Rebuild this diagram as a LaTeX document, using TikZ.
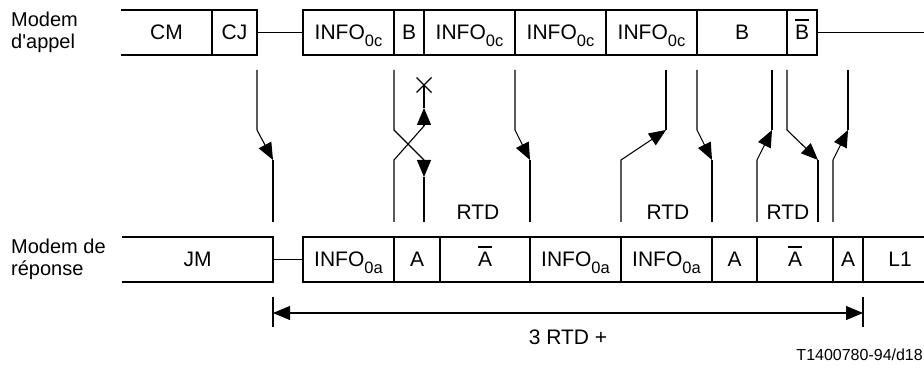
\documentclass[tikz,border=0pt]{standalone}
\usepackage{fontspec}
\setmainfont{Liberation Sans}
\usetikzlibrary{arrows.meta,positioning}

% lowered index and overbar used in the slot names
\newcommand{\lowtxt}[1]{\raisebox{-6.5pt}{\fontsize{16.5}{17}\selectfont #1}}
\newcommand{\ovbar}[1]{\setbox0\hbox{#1}\rlap{\raisebox{\dimexpr\ht0+5pt\relax}{\rule{\wd0}{1.3pt}}}\box0}

\tikzset{
  frame/.style={line width=1.4pt},
  wire/.style={line width=1.1pt},
  sig/.style={wire, -{Triangle[length=17pt,width=14pt]}},
  slot/.style={font=\fontsize{21}{23}\selectfont, inner sep=0pt, text height=15pt, text depth=0pt},
  side/.style={font=\fontsize{20}{21.5}\selectfont, inner sep=0pt, align=left, anchor=west}
}

\begin{document}
\begin{tikzpicture}[x=1pt,y=1pt]
    \useasboundingbox (0,0) rectangle (924,367);

    % calling modem row
    \node[side] (call) at (11,334.5) {Modem\\d\textquotesingle appel};
    \draw[frame] (121,357) -- (257,357) -- (257,312) -- (121,312);
    \draw[frame] (212,357) -- (212,312);
    \draw[frame] (257,334.5) -- (303,334.5);
    \draw[frame] (303,312) rectangle (817,357);
    \foreach \x in {394,424,515,606,697,787}
        \draw[frame] (\x,312) -- (\x,357);
    \draw[frame] (817,334.5) -- (924,334.5);

    \node[slot] (cm) at (166.5,334.5) {CM};
    \node[slot] (cj) at (234.5,334.5) {CJ};
    \node[slot] (ic1) at (348.5,334.5) {INFO\lowtxt{0c}};
    \node[slot] (b1) at (409,334.5) {B};
    \node[slot] (ic2) at (469.5,334.5) {INFO\lowtxt{0c}};
    \node[slot] (ic3) at (560.5,334.5) {INFO\lowtxt{0c}};
    \node[slot] (ic4) at (651.5,334.5) {INFO\lowtxt{0c}};
    \node[slot] (b2) at (742,334.5) {B};
    \node[slot] (bb) at (802,334.5) {\ovbar{B}};

    % answering modem row
    \node[side] (answer) at (11,107.5) {Modem de\\réponse};
    \draw[frame] (122,130) -- (273,130) -- (273,85) -- (122,85);
    \draw[frame] (273,107.5) -- (303,107.5);
    \draw[frame] (924,130) -- (303,130) -- (303,85) -- (924,85);
    \foreach \x in {394,440,530,621,712,757,833,863}
        \draw[frame] (\x,85) -- (\x,130);

    \node[slot] (jm) at (197.5,107.5) {JM};
    \node[slot] (ia1) at (348.5,107.5) {INFO\lowtxt{0a}};
    \node[slot] (a1) at (417,107.5) {A};
    \node[slot] (ab1) at (485,107.5) {\ovbar{A}};
    \node[slot] (ia2) at (575.5,107.5) {INFO\lowtxt{0a}};
    \node[slot] (ia3) at (666.5,107.5) {INFO\lowtxt{0a}};
    \node[slot] (a2) at (734.5,107.5) {A};
    \node[slot] (ab2) at (795,107.5) {\ovbar{A}};
    \node[slot] (a3) at (848,107.5) {A};
    \node[slot] (l1) at (900,107.5) {L1};

    % signals going down
    \draw[sig] (257,297) -- (257,237) -- (273,207);
    \draw[wire] (273,207) -- (273,145);
    \draw[wire] (394,297) -- (394,237) -- (424,207);
    \draw[sig] (424,207) -- (424,190);
    \draw[wire] (424,190) -- (424,145);
    \draw[sig] (515,297) -- (515,237) -- (530,207);
    \draw[wire] (530,207) -- (530,145);
    \draw[sig] (697,297) -- (697,237) -- (712,207);
    \draw[wire] (712,207) -- (712,145);
    \draw[sig] (787,297) -- (787,237) -- (818,207);
    \draw[wire] (818,207) -- (818,145);

    % signals going up
    \draw[wire] (394,145) -- (394,207) -- (424,241);
    \draw[sig] (424,241) -- (424,259);
    \draw[wire] (424,259) -- (424,282);
    \draw[wire] (416.5,274.5) -- (431.5,289.5) (416.5,289.5) -- (431.5,274.5);
    \draw[sig] (621,145) -- (621,207) -- (666,237);
    \draw[wire] (666,237) -- (666,297);
    \draw[sig] (757,145) -- (757,207) -- (772,237);
    \draw[wire] (772,237) -- (772,297);
    \draw[sig] (833,145) -- (833,207) -- (848,237);
    \draw[wire] (848,237) -- (848,297);

    \node[slot] (rtd1) at (478,155) {RTD};
    \node[slot] (rtd2) at (668,155) {RTD};
    \node[slot] (rtd3) at (788,155) {RTD};

    % total duration
    \coordinate (start) at (273,54);
    \coordinate (stop) at (863,54);
    \draw[wire] (273,70) -- (273,40);
    \draw[wire] (863,70) -- (863,40);
    \draw[wire, {Triangle[length=17pt,width=14pt]}-{Triangle[length=17pt,width=14pt]}] (start) -- (stop);
    \node[slot] (total) at (568,30.5) {3 RTD +};

    \node[font=\fontsize{16}{17}\selectfont, inner sep=0pt, anchor=east] (ref) at (923,12) {T1400780-94/d18};
\end{tikzpicture}
\end{document}
